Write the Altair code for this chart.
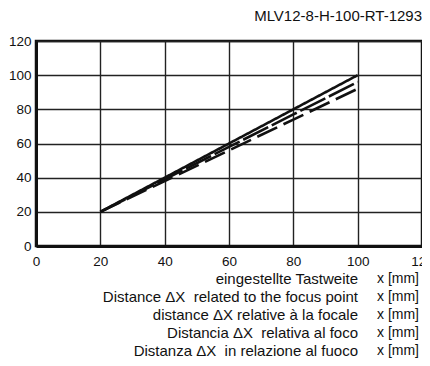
import altair as alt
import pandas as pd

# ---- data ----
distance = [20, 40, 60, 80, 100]
solid = [20, 40, 60, 80, 100]
dash_a = [20, 39, 58, 77, 96]
dash_b = [20, 38, 56, 74, 92]
series_names = ["solid", "dash_a", "dash_b"]

x_ticks = [0, 20, 40, 60, 80, 100, 120]
y_ticks = [0, 20, 40, 60, 80, 100, 120]
title_text = "MLV12-8-H-100-RT-1293"
captions = [
    "eingestellte Tastweite",
    "Distance \u0394X  related to the focus point",
    "distance \u0394X relative \u00e0 la focale",
    "Distancia \u0394X  relativa al foco",
    "Distanza \u0394X  in relazione al fuoco",
]
unit = "x [mm]"

FONT = "Liberation Sans"

rows = []
for name, ys in zip(series_names, [solid, dash_a, dash_b]):
    for x, y in zip(distance, ys):
        rows.append({"series": name, "x": x, "y": y})
lines_df = pd.DataFrame(rows)

cap_df = pd.DataFrame({
    "caption": [c.replace("  ", "\u00a0 ") for c in captions],
    "row": list(range(len(captions))),
    "unit": [unit] * len(captions),
})

lines = alt.Chart(lines_df).mark_line(color="#111", strokeWidth=2.6, clip=True).encode(
    x=alt.X("x:Q", scale=alt.Scale(domain=[0, 120], nice=False),
            axis=alt.Axis(values=x_ticks, title=None)),
    y=alt.Y("y:Q", scale=alt.Scale(domain=[0, 120], nice=False),
            axis=alt.Axis(values=y_ticks, title=None)),
    strokeDash=alt.StrokeDash("series:N",
                              scale=alt.Scale(domain=series_names,
                                              range=[[1, 0], [28, 4], [22, 7]]),
                              legend=None),
    detail="series:N",
)

cap_text = alt.Chart(cap_df).transform_calculate(
    py="238 + datum.row * 17.9"
).mark_text(align="right", baseline="middle", font=FONT, fontSize=15, color="#111").encode(
    x=alt.value(322),
    y=alt.Y("py:Q", scale=None, axis=None),
    text="caption:N",
)

unit_text = alt.Chart(cap_df).transform_calculate(
    py="238 + datum.row * 17.9"
).mark_text(align="left", baseline="middle", font=FONT, fontSize=14, color="#111").encode(
    x=alt.value(341),
    y=alt.Y("py:Q", scale=None, axis=None),
    text="unit:N",
)

title_mark = alt.Chart(alt.Data(values=[{"t": title_text}])).mark_text(
    align="right", baseline="middle", font=FONT, fontSize=15, color="#111"
).encode(
    x=alt.value(386),
    y=alt.value(-25),
    text="t:N",
)

chart = alt.layer(lines, cap_text, unit_text, title_mark).resolve_scale(y="independent").properties(
    width=386,
    height=205,
    autosize=alt.AutoSizeParams(type="none"),
    padding={"left": 28, "top": 33, "right": 0, "bottom": 112},
).configure_view(
    stroke="#111", strokeWidth=2.5
).configure_axis(
    grid=True, gridColor="#222", gridWidth=1.4, gridOpacity=1,
    domain=True, domainColor="#111", domainWidth=3,
    ticks=False, labelFont=FONT, labelFontSize=13.5, labelColor="#111",
    labelPadding=5,
).configure_axisX(labelPadding=8, labelBaseline="top", labelFlush=False)

chart.save("out.html", embed_options={"renderer": "svg", "actions": False})
